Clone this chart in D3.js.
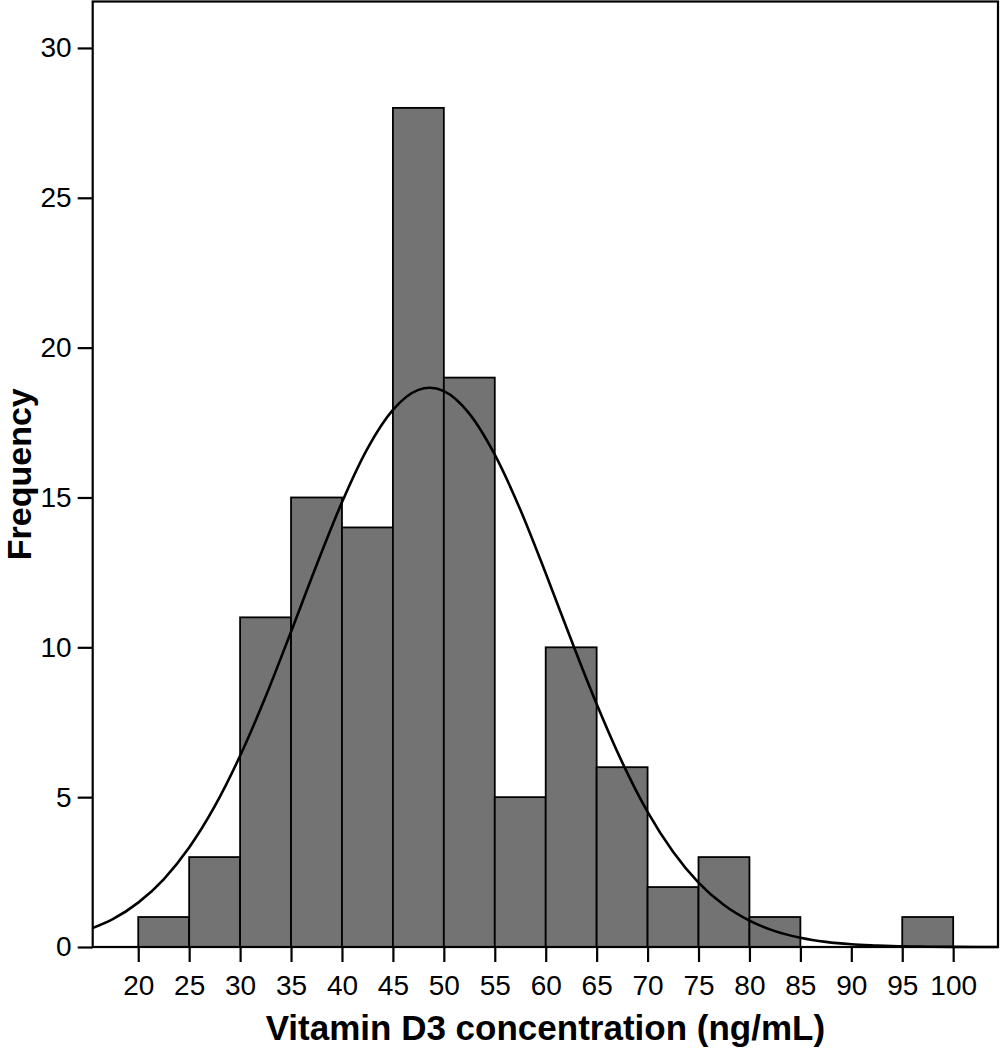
<!DOCTYPE html>
<html>
<head>
<meta charset="utf-8">
<script src="https://cdn.jsdelivr.net/npm/d3@7"></script>
<style>
  body { margin: 0; background: #fff; }
  svg { display: block; font-family: "Liberation Sans", Arial, sans-serif; }
</style>
</head>
<body>
<svg width="1002" height="1050"></svg>
<script>
// histogram bins (start of each 5 ng/mL bin) and counts
const binStarts = [20, 25, 30, 35, 40, 45, 50, 55, 60, 65, 70, 75, 80, 85, 90, 95];
const counts    = [1, 3, 11, 15, 14, 28, 19, 5, 10, 6, 2, 3, 1, 0, 0, 1];
const binWidth = 5;

// fitted normal curve
const curveX = [15.5, 17.5, 20, 22.5, 25, 27.5, 30, 32.5, 35, 37.5, 40, 42.5, 45, 47.5, 48.6,
  50, 52.5, 55, 57.5, 60, 62.5, 65, 67.5, 70, 72.5, 75, 77.5, 80, 82.5, 85, 87.5, 90, 92.5,
  95, 97.5, 100, 104.4];
const curveY = [0.63, 0.93, 1.48, 2.26, 3.32, 4.69, 6.38, 8.35, 10.52, 12.74, 14.84, 16.63, 17.92, 18.59, 18.66,
  18.55, 17.8, 16.43, 14.6, 12.47, 10.25, 8.11, 6.17, 4.51, 3.18, 2.15, 1.4, 0.88, 0.53, 0.31, 0.17, 0.09, 0.05,
  0.02, 0.01, 0.005, 0];

const xTicks = [20, 25, 30, 35, 40, 45, 50, 55, 60, 65, 70, 75, 80, 85, 90, 95, 100];
const yTicks = [0, 5, 10, 15, 20, 25, 30];

/* ---- dimensions ---- */
const plot = { left: 92.7, right: 998, top: 1.5, bottom: 947 };

const x = d3.scaleLinear().domain([15.53, 104.4]).range([plot.left, plot.right]);
const y = d3.scaleLinear().domain([0, 31.55]).range([plot.bottom, plot.top]);

const svg = d3.select("svg");

// bars
const bins = binStarts.map((s, i) => ({ x0: s, x1: s + binWidth, n: counts[i] }))
  .filter(d => d.n > 0);

svg.append("g")
  .selectAll("rect")
  .data(bins)
  .enter()
  .append("rect")
  .attr("x", d => x(d.x0))
  .attr("y", d => y(d.n))
  .attr("width", d => x(d.x1) - x(d.x0))
  .attr("height", d => y(0) - y(d.n))
  .attr("fill", "#737373")
  .attr("stroke", "#000")
  .attr("stroke-width", 1.8);

// normal curve
const line = d3.line()
  .x((d, i) => x(curveX[i]))
  .y(d => y(d))
  .curve(d3.curveMonotoneX);

svg.append("path")
  .datum(curveY)
  .attr("fill", "none")
  .attr("stroke", "#000")
  .attr("stroke-width", 2.6)
  .attr("d", line);

// frame
svg.append("rect")
  .attr("x", plot.left)
  .attr("y", plot.top)
  .attr("width", plot.right - plot.left)
  .attr("height", plot.bottom - plot.top)
  .attr("fill", "none")
  .attr("stroke", "#000")
  .attr("stroke-width", 2.2);

// axes
const xAxis = d3.axisBottom(x).tickValues(xTicks).tickSize(15).tickPadding(13);
const yAxis = d3.axisLeft(y).tickValues(yTicks).tickSize(15).tickPadding(6);

const gx = svg.append("g")
  .attr("transform", "translate(0," + plot.bottom + ")")
  .call(xAxis);
const gy = svg.append("g")
  .attr("transform", "translate(" + plot.left + ",0)")
  .call(yAxis);

[gx, gy].forEach(g => {
  g.select(".domain").remove();
  g.selectAll(".tick line").attr("stroke", "#000").attr("stroke-width", 2.2);
  g.selectAll(".tick text")
    .attr("fill", "#000")
    .style("font-size", "28px")
    .style("font-family", "'Liberation Sans', Arial, sans-serif");
});

// axis titles
svg.append("text")
  .attr("x", (plot.left + plot.right) / 2)
  .attr("y", 1040)
  .attr("text-anchor", "middle")
  .style("font-size", "35px")
  .style("font-weight", "bold")
  .text("Vitamin D3 concentration (ng/mL)");

svg.append("text")
  .attr("transform", "translate(31," + (plot.top + plot.bottom) / 2 + ") rotate(-90)")
  .attr("text-anchor", "middle")
  .style("font-size", "34px")
  .style("font-weight", "bold")
  .text("Frequency");
</script>
</body>
</html>
